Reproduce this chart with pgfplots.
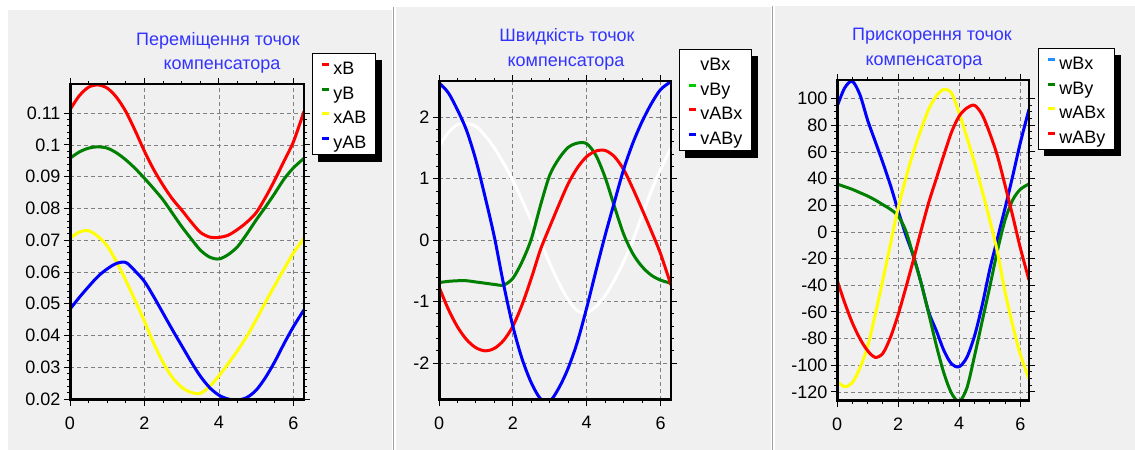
\documentclass[border=0pt]{standalone}
\usepackage{pgfplots}
\usepackage{pgfplotstable}
\pgfplotsset{compat=1.18}
\usepackage{fontspec}
\setmainfont{Liberation Sans}
\definecolor{bg}{HTML}{F0F0F0}
\definecolor{sepc}{HTML}{A0A0A0}
\definecolor{tblue}{HTML}{3333FF}
\definecolor{lblue}{HTML}{1E90FF}
\definecolor{dgreen}{HTML}{008000}
\definecolor{yel}{HTML}{FFFF00}
\newcommand\fs{\fontsize{18bp}{22bp}\selectfont}

\pgfplotstableread{
t xB yB xAB yAB
0 .1111 .0958 .0706 .0483
0.25 .1155 .0978 .0726 .0520
0.5 .1182 .0990 .0730 .0554
0.75 .1189 .0994 .0712 .0586
1 .1179 .0990 .0682 .0610
1.25 .1150 .0975 .0632 .0627
1.5 .1105 .0953 .0573 .0630
1.75 .1045 .0926 .0510 .0603
2 .0980 .0895 .0445 .0570
2.25 .0922 .0862 .0375 .0522
2.5 .0873 .0827 .0315 .0470
2.75 .0830 .0785 .0268 .0418
3 .0795 .0743 .0237 .0368
3.25 .0758 .0705 .0221 .0318
3.5 .0725 .0669 .0218 .0272
3.75 .0710 .0647 .0240 .0236
4 .0709 .0641 .0273 .0212
4.25 .0716 .0655 .0312 .0200
4.5 .0734 .0680 .0353 .0197
4.75 .0757 .0720 .0398 .0205
5 .0787 .0764 .0450 .0228
5.25 .0835 .0805 .0505 .0268
5.5 .0890 .0848 .0558 .0318
5.75 .0950 .0893 .0610 .0375
6 .1010 .0928 .0660 .0428
6.2832 .1106 .0958 .0706 .0481
}\tabA

\pgfplotstableread{
t vBx vBy vABx vABy
0 1.52 -0.69 -0.76 2.56
0.25 1.75 -0.67 -1.12 2.40
0.5 1.88 -0.66 -1.41 2.12
0.75 1.90 -0.66 -1.62 1.78
1 1.85 -0.68 -1.75 1.30
1.25 1.70 -0.70 -1.80 0.70
1.5 1.50 -0.72 -1.76 0.05
1.75 1.25 -0.73 -1.63 -0.72
2 0.97 -0.62 -1.40 -1.40
2.25 0.65 -0.35 -1.05 -1.93
2.5 0.32 0.02 -0.62 -2.32
2.75 -0.02 0.57 -0.15 -2.58
3 -0.38 1.06 0.22 -2.62
3.25 -0.70 1.33 0.58 -2.40
3.5 -0.97 1.51 0.92 -2.08
3.75 -1.15 1.58 1.18 -1.65
4 -1.18 1.57 1.36 -1.10
4.25 -1.08 1.38 1.45 -0.50
4.5 -0.90 1.02 1.46 0.08
4.75 -0.65 0.55 1.36 0.62
5 -0.35 0.10 1.15 1.15
5.25 0.00 -0.22 0.84 1.58
5.5 0.40 -0.43 0.50 1.93
5.75 0.80 -0.57 0.15 2.22
6 1.15 -0.65 -0.22 2.45
6.2832 1.50 -0.70 -0.73 2.58
}\tabB

\pgfplotstableread{
t wBx wBy wABx wABy
0 94 36 -112 -36
0.25 108 34 -116 -53
0.5 113 32 -113 -68
0.75 103 29.5 -102 -80
1 84 27 -86 -89
1.25 68 24 -62 -94
1.5 52 20.5 -36 -91
1.75 35 17 -9 -79
2 16 12 18 -62
2.25 -2 1 40 -42
2.5 -18 -18 60 -21
2.75 -38 -38 77 1
3 -60 -61 92 22
3.25 -74 -85 102 40
3.5 -89 -106 107 58
3.75 -99 -121 104 75
4 -101 -127 89 87
4.25 -94 -117 71 93
4.5 -78 -93 52 95
4.75 -55 -67 31 88
5 -28 -41 9 74
5.25 -5 -14 -15 57
5.5 18 9 -45 35
5.75 42 24 -70 12
6 67 32 -92 -12
6.2832 92 36 -110 -36
}\tabC

\pgfplotsset{
  panel/.style={
    scale only axis,
    axis background/.style={fill=bg},
    xmin=0, xmax=6.2832, xtick={0,2,4,6}, minor x tick num=3,
    tick align=outside, major tick length=6bp, minor tick length=3bp,
    every tick/.style={black, line width=1bp},
    grid=major,
    major grid style={gray, line width=0.9bp, dash pattern=on 4bp off 3bp},
    axis line style={black, line width=2bp},
    ticklabel style={font=\fs},
    xticklabel style={yshift=-7bp},
    /pgf/number format/assume math mode=true,
    every axis plot post/.append style={line width=3bp, smooth, forget plot},
    legend cell align=left,
    legend style={font=\fs, draw=black, line width=0.8bp, fill=white, anchor=north west,
      row sep=4bp, inner xsep=8bp, inner ysep=3.5bp,
      nodes={inner sep=1bp}},
    legend image code/.code={\path (0bp,-2bp) (9bp,11bp);\draw[#1, line width=3bp] (0bp,4.45bp) -- (7bp,4.45bp);},
  }
}
\newcommand\axframe{%
  \draw[black, line width=2bp] (rel axis cs:0,0) rectangle (rel axis cs:1,1);
  \draw[black, line width=3bp] (rel axis cs:0,1) -- (rel axis cs:0,0) -- (rel axis cs:1,0);}
\newcommand\legshadow[1]{%
  \fill[black] ([yshift=-7bp]#1.north east) rectangle ([xshift=6bp,yshift=-7bp]#1.south east);
  \fill[black] ([xshift=6bp]#1.south west) rectangle ([xshift=6bp,yshift=-7bp]#1.south east);}

\begin{document}
\begin{tikzpicture}
\path[use as bounding box] (0bp,0bp) rectangle (1135bp,450bp);
\fill[white] (0bp,0bp) rectangle (1135bp,450bp);
\fill[bg] (8bp,0bp) rectangle (392bp,440bp);
\draw[sepc, line width=1bp] (393.5bp,0bp) -- (393.5bp,443bp);
\fill[bg] (396bp,0bp) rectangle (771bp,443bp);
\draw[sepc, line width=1bp] (772.5bp,0bp) -- (772.5bp,444bp);
\fill[bg] (775bp,0bp) rectangle (1135bp,444bp);

\begin{axis}[panel, at={(70bp,50bp)}, anchor=south west, width=234bp, height=316bp,
  ymin=0.0197, ymax=0.1192,
  ytick={0.02,0.03,0.04,0.05,0.06,0.07,0.08,0.09,0.1,0.11}, minor y tick num=4,
  yticklabel style={/pgf/number format/.cd, fixed, precision=2},
  legend style={at={(1.034,1.098)}, name=lgA}]
\addplot[red] table[x=t,y=xB] {\tabA};
\addplot[dgreen] table[x=t,y=yB] {\tabA};
\addplot[yel] table[x=t,y=xAB] {\tabA};
\addplot[blue] table[x=t,y=yAB] {\tabA};
\addlegendimage{red}\addlegendentry{xB}
\addlegendimage{dgreen}\addlegendentry{yB}
\addlegendimage{yel}\addlegendentry{xAB}
\addlegendimage{blue}\addlegendentry{yAB}
\axframe
\end{axis}
\legshadow{lgA}

\begin{axis}[panel, at={(439bp,50bp)}, anchor=south west, width=232bp, height=319bp,
  ymin=-2.6, ymax=2.59, ytick={-2,-1,0,1,2}, minor y tick num=4,
  legend style={at={(1.034,1.100)}, name=lgB}]
\addplot[white] table[x=t,y=vBx] {\tabB};
\addplot[dgreen] table[x=t,y=vBy] {\tabB};
\addplot[red] table[x=t,y=vABx] {\tabB};
\addplot[blue] table[x=t,y=vABy] {\tabB};
\addlegendimage{white}\addlegendentry{vBx}
\addlegendimage{green!80!black}\addlegendentry{vBy}
\addlegendimage{red}\addlegendentry{vABx}
\addlegendimage{blue}\addlegendentry{vABy}
\axframe
\end{axis}
\legshadow{lgB}

\begin{axis}[panel, at={(837bp,49bp)}, anchor=south west, width=192bp, height=321bp,
  ymin=-126.75, ymax=114, ytick={-120,-100,...,100}, minor y tick num=3,
  legend style={at={(1.047,1.100)}, name=lgC}]
\addplot[blue] table[x=t,y=wBx] {\tabC};
\addplot[dgreen] table[x=t,y=wBy] {\tabC};
\addplot[yel] table[x=t,y=wABx] {\tabC};
\addplot[red] table[x=t,y=wABy] {\tabC};
\addlegendimage{lblue}\addlegendentry{wBx}
\addlegendimage{dgreen}\addlegendentry{wBy}
\addlegendimage{yel}\addlegendentry{wABx}
\addlegendimage{red}\addlegendentry{wABy}
\axframe
\end{axis}
\legshadow{lgC}

\node[text=tblue, font=\fs, anchor=base] at (218bp,404.5bp) {Переміщення точок};
\node[text=tblue, font=\fs, anchor=base] at (222bp,380.5bp) {компенсатора};
\node[text=tblue, font=\fs, anchor=base] at (567bp,408.5bp) {Швидкість точок};
\node[text=tblue, font=\fs, anchor=base] at (566bp,383.5bp) {компенсатора};
\node[text=tblue, font=\fs, anchor=base] at (932bp,409.5bp) {Прискорення точок};
\node[text=tblue, font=\fs, anchor=base] at (924bp,384.5bp) {компенсатора};
\end{tikzpicture}
\end{document}
